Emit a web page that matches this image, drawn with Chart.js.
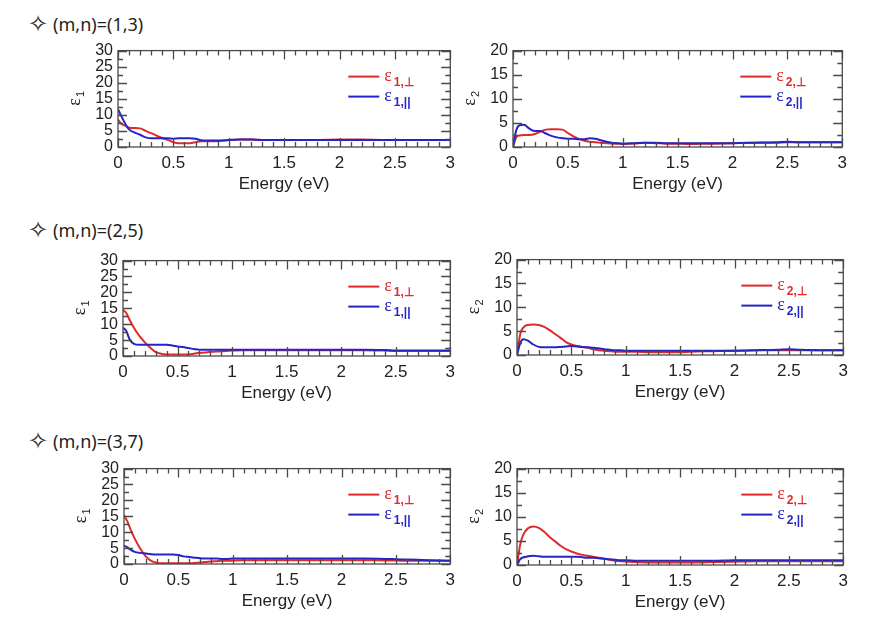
<!DOCTYPE html>
<html>
<head>
<meta charset="utf-8">
<script src="https://cdn.jsdelivr.net/npm/chart.js@4"></script>
<style>
  html, body { margin: 0; padding: 0; background: #fff; }
  #page { position: relative; width: 875px; height: 629px; overflow: hidden; }
  .title { position: absolute; left: 28px; height: 26px; line-height: 26px;
           font-family: "Noto Sans", sans-serif; font-size: 18px; color: #222; white-space: nowrap; }
  .title .star { font-family: "DejaVu Sans"; font-size: 24px; margin-right: 5px;
                 display: inline-block; line-height: 26px; vertical-align: top; }
  canvas { position: absolute; }
</style>
</head>
<body>
<div id="page">
  <div class="title" style="top:11px"><span class="star">✧</span>(m,n)=(1,3)</div>
  <div class="title" style="top:217px"><span class="star">✧</span>(m,n)=(2,5)</div>
  <div class="title" style="top:428px"><span class="star">✧</span>(m,n)=(3,7)</div>
</div>
<script>
// photon energy grid (eV), shared by all curves
const energy = [0, 0.03, 0.06, 0.1, 0.15, 0.2, 0.25, 0.3, 0.35, 0.4, 0.45, 0.5, 0.55, 0.6, 0.65, 0.7, 0.75, 0.8, 0.85, 0.9, 0.95, 1.0, 1.1, 1.2, 1.3, 1.4, 1.5, 1.6, 1.8, 2.0, 2.2, 2.4, 2.5, 2.6, 2.8, 3.0];

// (m,n) = (1,3)
const eps1Perp13 = [8.5, 7.2, 6.7, 6.0, 5.9, 5.8, 5.0, 4.3, 3.5, 2.8, 2.2, 1.5, 1.2, 1.2, 1.2, 1.5, 1.8, 1.8, 1.8, 1.8, 2.0, 2.2, 2.3, 2.3, 2.2, 2.2, 2.2, 2.2, 2.2, 2.3, 2.3, 2.2, 2.2, 2.2, 2.2, 2.2];
const eps1Par13  = [11.8, 9.6, 7.6, 5.5, 4.5, 3.8, 3.0, 2.7, 2.7, 2.7, 2.7, 2.6, 2.7, 2.7, 2.7, 2.6, 2.1, 2.0, 2.0, 2.0, 2.0, 2.2, 2.3, 2.3, 2.2, 2.2, 2.2, 2.2, 2.2, 2.2, 2.2, 2.2, 2.2, 2.2, 2.2, 2.2];
const eps2Perp13 = [0, 2.0, 2.4, 2.5, 2.5, 2.7, 3.2, 3.6, 3.7, 3.7, 3.6, 2.9, 2.2, 1.7, 1.3, 1.1, 1.0, 0.9, 0.8, 0.7, 0.7, 0.6, 0.7, 0.9, 0.8, 0.7, 0.7, 0.6, 0.7, 0.8, 0.9, 0.9, 1.0, 1.0, 1.0, 1.0];
const eps2Par13  = [0, 3.5, 4.5, 4.6, 3.8, 3.3, 3.3, 2.8, 2.3, 2.0, 1.8, 1.7, 1.7, 1.6, 1.6, 1.8, 1.7, 1.4, 1.1, 0.9, 0.8, 0.7, 0.8, 0.9, 0.9, 0.8, 0.8, 0.8, 0.8, 0.8, 0.9, 1.0, 1.1, 1.0, 1.0, 1.0];

// (m,n) = (2,5)
const eps1Perp25 = [14.5, 13.5, 11.4, 8.9, 6.3, 4.3, 2.6, 1.2, 0.7, 0.5, 0.5, 0.5, 0.5, 0.5, 0.7, 1.0, 1.1, 1.3, 1.4, 1.5, 1.6, 1.7, 1.8, 1.8, 1.8, 1.8, 1.8, 1.8, 1.8, 1.8, 1.8, 1.7, 1.6, 1.6, 1.6, 1.6];
const eps1Par25  = [8.9, 7.9, 5.3, 3.8, 3.5, 3.5, 3.5, 3.5, 3.5, 3.5, 3.3, 3.0, 2.8, 2.5, 2.2, 2.0, 2.0, 2.0, 2.0, 2.0, 2.0, 2.0, 2.0, 2.0, 2.0, 2.0, 2.0, 2.0, 2.0, 2.0, 2.0, 1.9, 1.7, 1.7, 1.7, 1.7];
const eps2Perp25 = [0, 4.4, 5.8, 6.3, 6.4, 6.3, 5.9, 5.2, 4.4, 3.6, 2.7, 2.2, 1.9, 1.7, 1.5, 1.2, 1.0, 0.9, 0.8, 0.7, 0.7, 0.7, 0.7, 0.6, 0.6, 0.6, 0.6, 0.7, 0.8, 0.9, 1.0, 1.0, 1.0, 1.0, 1.0, 1.0];
const eps2Par25  = [0, 2.5, 3.3, 3.0, 2.2, 1.7, 1.6, 1.6, 1.6, 1.7, 1.8, 1.9, 1.8, 1.7, 1.6, 1.5, 1.4, 1.2, 1.1, 1.0, 1.0, 0.9, 0.9, 0.9, 0.9, 0.9, 0.9, 0.9, 0.9, 0.9, 1.0, 1.1, 1.2, 1.1, 1.0, 1.0];

// (m,n) = (3,7)
const eps1Perp37 = [15.3, 13.5, 10.9, 7.9, 4.8, 2.4, 1.0, 0.4, 0.2, 0.2, 0.2, 0.2, 0.2, 0.2, 0.3, 0.5, 0.6, 0.8, 0.9, 1.0, 1.0, 1.1, 1.2, 1.2, 1.2, 1.2, 1.2, 1.2, 1.2, 1.2, 1.2, 1.1, 1.1, 1.0, 1.0, 1.0];
const eps1Par37  = [5.8, 5.3, 4.5, 3.8, 3.5, 3.3, 3.1, 3.0, 3.0, 3.0, 3.0, 2.8, 2.4, 2.2, 2.0, 1.8, 1.7, 1.7, 1.7, 1.6, 1.6, 1.7, 1.7, 1.7, 1.7, 1.7, 1.7, 1.7, 1.7, 1.7, 1.7, 1.6, 1.5, 1.4, 1.2, 1.0];
const eps2Perp37 = [0, 4.3, 6.4, 7.6, 8.0, 7.7, 6.9, 5.8, 4.9, 4.0, 3.3, 2.8, 2.4, 2.1, 1.9, 1.7, 1.5, 1.3, 1.1, 0.9, 0.8, 0.7, 0.6, 0.5, 0.5, 0.5, 0.5, 0.5, 0.6, 0.7, 0.8, 0.8, 0.8, 0.8, 0.8, 0.8];
const eps2Par37  = [0, 1.2, 1.6, 1.8, 1.9, 1.8, 1.7, 1.7, 1.7, 1.7, 1.7, 1.7, 1.7, 1.6, 1.5, 1.5, 1.4, 1.3, 1.2, 1.1, 1.0, 1.0, 0.9, 0.9, 0.9, 0.9, 0.9, 0.9, 0.9, 1.0, 1.0, 1.0, 1.0, 1.0, 1.0, 1.0];

const xTicks = [0, 0.5, 1, 1.5, 2, 2.5, 3];

const RED = "#e02a2a";
const BLUE = "#2424c8";
const FRAME = "#4a4a4a";
const SANS = "Arial, 'Liberation Sans', Helvetica, sans-serif";

// frame, inward tick marks, y title and legend (with subscripts)
const framePlugin = {
  id: "frame",
  afterDraw(chart, args, opts) {
    const { ctx, chartArea: a, scales } = chart;
    ctx.save();
    ctx.strokeStyle = FRAME;
    ctx.lineWidth = 1.3;
    ctx.strokeRect(a.left, a.top, a.right - a.left, a.bottom - a.top);
    ctx.beginPath();
    for (let i = 0; i <= 30; i++) {
      const x = Math.round(scales.x.getPixelForValue(i / 10)) + 0.5;
      const len = i % 5 === 0 ? 9 : 5;
      ctx.moveTo(x, a.bottom); ctx.lineTo(x, a.bottom - len);
      ctx.moveTo(x, a.top); ctx.lineTo(x, a.top + len);
    }
    for (let v = 0; v <= scales.y.max; v += 2.5) {
      const y = Math.round(scales.y.getPixelForValue(v)) + 0.5;
      const len = v % 5 === 0 ? 9 : 5;
      ctx.moveTo(a.left, y); ctx.lineTo(a.left + len, y);
      ctx.moveTo(a.right, y); ctx.lineTo(a.right - len, y);
    }
    ctx.stroke();

    // y axis title: epsilon with subscript, rotated
    const big = "18px 'Liberation Serif', 'Times New Roman', serif";
    const small = "11px " + SANS;
    ctx.fillStyle = "#222";
    ctx.translate(a.left - 43, (a.top + a.bottom) / 2);
    ctx.rotate(-Math.PI / 2);
    ctx.font = big;
    const wE = ctx.measureText("ε").width;
    ctx.font = small;
    const wS = ctx.measureText(opts.sub).width;
    const x0 = -(wE + wS) / 2;
    ctx.textBaseline = "alphabetic";
    ctx.font = big;
    ctx.fillText("ε", x0, 5);
    ctx.font = small;
    ctx.fillText(opts.sub, x0 + wE + 1, 9);
    ctx.restore();

    // legend
    const rows = [
      { color: RED, sub: opts.sub + ",⊥", y: a.top + 26 },
      { color: BLUE, sub: opts.sub + ",||", y: a.top + 46 }
    ];
    ctx.save();
    rows.forEach(r => {
      ctx.strokeStyle = r.color;
      ctx.lineWidth = 2;
      ctx.beginPath();
      ctx.moveTo(a.right - 102, r.y);
      ctx.lineTo(a.right - 71, r.y);
      ctx.stroke();
      ctx.fillStyle = r.color;
      ctx.font = big;
      ctx.textBaseline = "alphabetic";
      ctx.fillText("ε", a.right - 66, r.y + 4);
      const w = ctx.measureText("ε").width;
      ctx.font = "bold 12px " + SANS;
      ctx.fillText(r.sub, a.right - 66 + w + 2, r.y + 9);
    });
    ctx.restore();
  }
};

const panels = [
  { plot: [118, 48, 451, 147], ymax: 30, sub: "1", perp: eps1Perp13, par: eps1Par13 },
  { plot: [513, 48, 843, 147], ymax: 20, sub: "2", perp: eps2Perp13, par: eps2Par13 },
  { plot: [123, 258, 451, 356], ymax: 30, sub: "1", perp: eps1Perp25, par: eps1Par25 },
  { plot: [517, 257, 844, 355], ymax: 20, sub: "2", perp: eps2Perp25, par: eps2Par25 },
  { plot: [124, 466, 451, 564], ymax: 30, sub: "1", perp: eps1Perp37, par: eps1Par37 },
  { plot: [517, 466, 844, 565], ymax: 20, sub: "2", perp: eps2Perp37, par: eps2Par37 }
];

const padL = 60, padT = 12, padR = 10, padB = 48;

panels.forEach(p => {
  const cv = document.createElement("canvas");
  cv.width = p.plot[2] - p.plot[0] + padL + padR;
  cv.height = p.plot[3] - p.plot[1] + padT + padB;
  cv.style.left = (p.plot[0] - padL) + "px";
  cv.style.top = (p.plot[1] - padT) + "px";
  document.getElementById("page").appendChild(cv);

  new Chart(cv, {
    type: "line",
    data: {
      datasets: [
        {
          label: "perp",
          data: energy.map((e, i) => ({ x: e, y: p.perp[i] })),
          borderColor: RED,
          borderWidth: 2,
          pointRadius: 0,
          cubicInterpolationMode: "monotone",
          order: 1,
        },
        {
          label: "par",
          data: energy.map((e, i) => ({ x: e, y: p.par[i] })),
          borderColor: BLUE,
          borderWidth: 2,
          pointRadius: 0,
          cubicInterpolationMode: "monotone",
          order: 0,
        },
      ],
    },
    options: {
      responsive: false,
      animation: false,
      events: [],
      layout: { padding: { top: padT, right: padR, left: 0, bottom: 0 } },
      plugins: {
        legend: { display: false },
        tooltip: { enabled: false },
        frame: { sub: p.sub },
      },
      scales: {
        x: {
          type: "linear",
          min: 0,
          max: 3,
          grid: { display: false, drawTicks: false },
          border: { display: false },
          afterBuildTicks: s => { s.ticks = xTicks.map(v => ({ value: v })); },
          ticks: {
            autoSkip: false,
            maxRotation: 0,
            padding: 6,
            color: "#222",
            font: { family: SANS, size: 17 },
            callback: v => String(v),
          },
          title: {
            display: true,
            text: "Energy (eV)",
            color: "#222",
            padding: 0,
            font: { family: SANS, size: 17 },
          },
          afterFit: s => { s.height = padB; },
        },
        y: {
          min: 0,
          max: p.ymax,
          grid: { display: false, drawTicks: false },
          border: { display: false },
          ticks: {
            stepSize: 5,
            autoSkip: false,
            padding: 5,
            color: "#222",
            font: { family: SANS, size: 16 },
            callback: v => String(v),
          },
          afterFit: s => { s.width = padL; },
        },
      },
    },
    plugins: [framePlugin],
  });
});
</script>
</body>
</html>
